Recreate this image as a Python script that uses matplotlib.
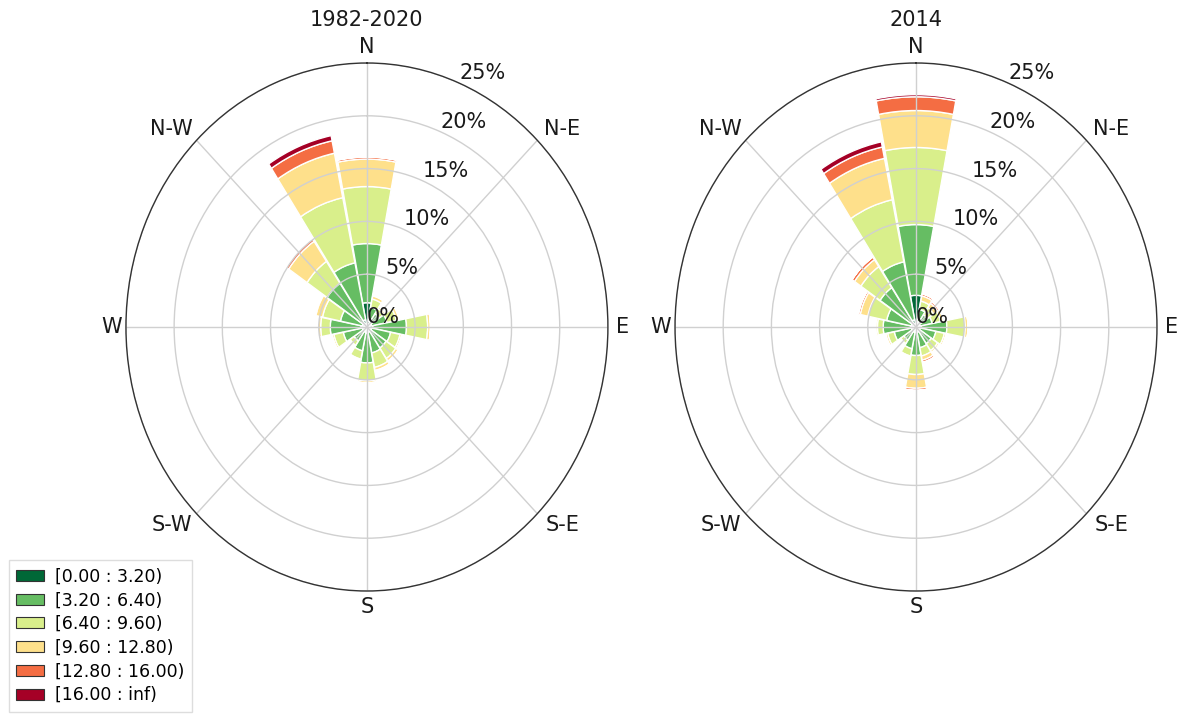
import numpy as np
import matplotlib.pyplot as plt
from matplotlib.patches import Patch

directions = ['N', 'NNE', 'NE', 'ENE', 'E', 'ESE', 'SE', 'SSE',
              'S', 'SSW', 'SW', 'WSW', 'W', 'WNW', 'NW', 'NNW']
compass_labels = ['N', 'N-E', 'E', 'S-E', 'S', 'S-W', 'W', 'N-W']
speed_bins = ['[0.00 : 3.20)', '[3.20 : 6.40)', '[6.40 : 9.60)',
              '[9.60 : 12.80)', '[12.80 : 16.00)', '[16.00 : inf)']
radial_ticks = [0, 5, 10, 15, 20, 25]

# frequency (%) per direction (rows) and speed bin (columns)
freq_1982_2020 = [
    [2.3, 5.6, 5.4, 2.6, 0.2, 0.0],
    [0.6, 1.3, 0.8, 0.3, 0.05, 0.0],
    [0.5, 1.0, 0.6, 0.2, 0.05, 0.0],
    [0.5, 1.6, 1.0, 0.3, 0.05, 0.0],
    [0.6, 3.5, 2.2, 0.3, 0.0, 0.0],
    [0.5, 2.0, 1.0, 0.2, 0.0, 0.0],
    [0.5, 1.9, 1.2, 0.3, 0.05, 0.0],
    [0.5, 2.0, 1.4, 0.3, 0.05, 0.0],
    [0.6, 2.8, 1.7, 0.2, 0.0, 0.0],
    [0.5, 1.8, 0.8, 0.1, 0.0, 0.0],
    [0.4, 1.2, 0.5, 0.1, 0.0, 0.0],
    [0.5, 2.0, 1.0, 0.2, 0.0, 0.0],
    [0.6, 3.2, 1.0, 0.3, 0.0, 0.0],
    [0.5, 2.3, 1.9, 0.7, 0.1, 0.0],
    [0.6, 4.4, 2.5, 2.3, 0.3, 0.0],
    [0.7, 5.5, 6.3, 4.3, 1.2, 0.5],
]

freq_2014 = [
    [3.0, 6.7, 7.3, 3.5, 1.3, 0.2],
    [0.5, 1.2, 0.8, 0.5, 0.2, 0.0],
    [0.4, 1.0, 0.8, 0.5, 0.2, 0.05],
    [0.4, 1.3, 0.9, 0.3, 0.05, 0.0],
    [0.5, 2.7, 1.9, 0.3, 0.0, 0.0],
    [0.4, 1.7, 0.9, 0.2, 0.0, 0.0],
    [0.4, 1.5, 0.8, 0.2, 0.05, 0.0],
    [0.5, 1.5, 0.8, 0.4, 0.2, 0.05],
    [0.5, 2.2, 1.8, 1.3, 0.2, 0.0],
    [0.5, 1.6, 0.7, 0.1, 0.0, 0.0],
    [0.4, 1.1, 0.4, 0.1, 0.0, 0.0],
    [0.5, 1.8, 0.7, 0.2, 0.05, 0.0],
    [0.5, 2.9, 0.6, 0.2, 0.0, 0.0],
    [0.5, 2.6, 2.0, 0.8, 0.2, 0.0],
    [0.6, 3.9, 2.4, 0.8, 0.3, 0.0],
    [0.7, 5.6, 6.0, 4.0, 1.1, 0.5],
]

colors = plt.cm.RdYlGn_r(np.linspace(0, 1, len(speed_bins)))
TEXT = '#1a1a1a'


def draw_rose(ax, table, title):
    table = np.array(table)
    theta = np.deg2rad(np.arange(len(directions)) * 360.0 / len(directions))
    width = np.deg2rad(360.0 / len(directions)) * 0.97
    bottom = np.zeros(len(directions))
    for j in range(len(speed_bins)):
        ax.bar(theta, table[:, j], width=width, bottom=bottom,
               color=colors[j], edgecolor='white', linewidth=1.0, zorder=1)
        bottom += table[:, j]

    ax.set_theta_zero_location('N')
    ax.set_theta_direction(-1)
    ax.set_aspect('auto')
    ax.set_ylim(0, 25)
    ax.set_yticks(radial_ticks)
    ax.set_yticklabels([f'{t}%' for t in radial_ticks], fontsize=15, color=TEXT)
    ax.set_rlabel_position(22.5)

    # compass labels drawn by hand, diagonal ones pushed a bit further sideways
    angles = np.arange(0, 360, 45)
    ax.set_xticks(np.deg2rad(angles))
    ax.set_xticklabels([])
    for ang, lab in zip(angles, compass_labels):
        a = np.deg2rad(ang)
        rx = 0.573 if ang % 90 else 0.53
        ax.text(0.5 + rx * np.sin(a), 0.5 + 0.53 * np.cos(a), lab,
                transform=ax.transAxes, ha='center', va='center',
                fontsize=15, color=TEXT)

    ax.grid(True, color='#d0d0d0', linewidth=1.0)
    ax.spines['polar'].set_color('#333333')
    ax.spines['polar'].set_linewidth(1.0)
    ax.text(0.5, 1.081, title, transform=ax.transAxes, ha='center', va='center',
            fontsize=15, color=TEXT)


fig = plt.figure(figsize=(11.77, 7.15), dpi=100)
ax1 = fig.add_axes([0.107, 0.1734, 0.4095, 0.7385], projection='polar')
ax2 = fig.add_axes([0.5735, 0.1734, 0.4095, 0.7385], projection='polar')

draw_rose(ax1, freq_1982_2020, '1982-2020')
draw_rose(ax2, freq_2014, '2014')

handles = [Patch(facecolor=colors[j], edgecolor='#333333', linewidth=0.8)
           for j in range(len(speed_bins))]
fig.legend(handles, speed_bins, loc='lower left', bbox_to_anchor=(0.0, -0.008),
           fontsize=12.5, labelspacing=0.33, handlelength=1.6, handleheight=0.6,
           handletextpad=0.6, borderpad=0.45, fancybox=False, framealpha=1,
           edgecolor='#dddddd')

fig.savefig('out.png', dpi=100)
